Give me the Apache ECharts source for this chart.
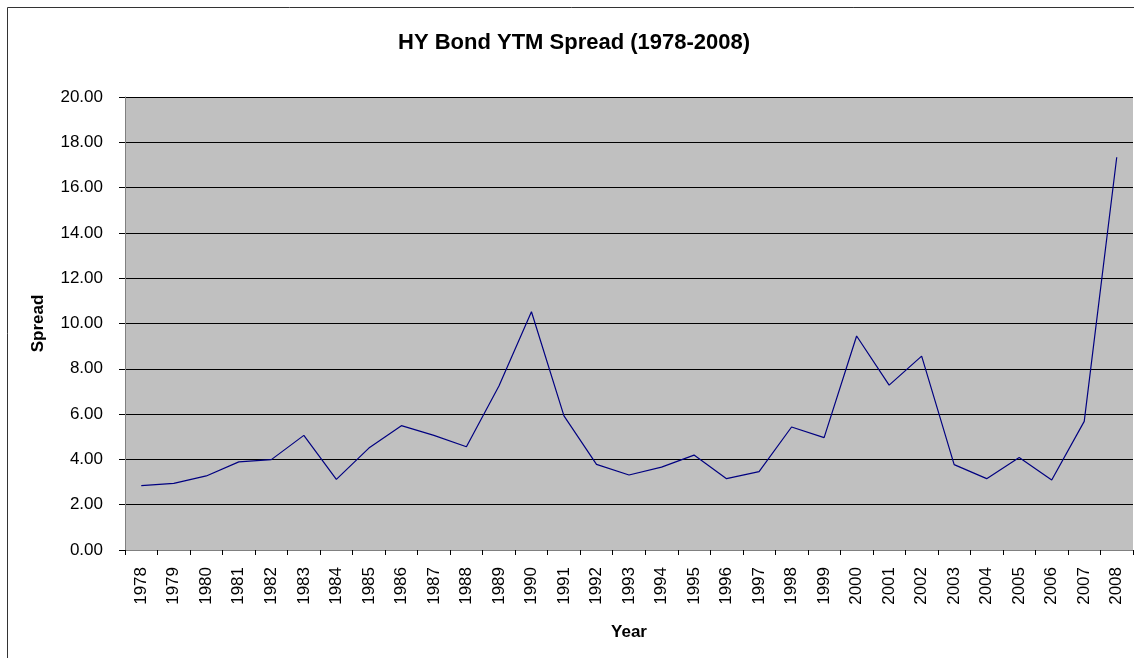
<!DOCTYPE html>
<html>
<head>
<meta charset="utf-8">
<script src="https://cdn.jsdelivr.net/npm/echarts@6/dist/echarts.min.js"></script>
<style>
    html, body { margin: 0; padding: 0; background: #ffffff; }
    #main { width: 1134px; height: 658px; }
</style>
</head>
<body>
<div id="main"></div>
<script>
// years on the category axis
var years = ['1978', '1979', '1980', '1981', '1982', '1983', '1984', '1985', '1986', '1987',
    '1988', '1989', '1990', '1991', '1992', '1993', '1994', '1995', '1996', '1997',
    '1998', '1999', '2000', '2001', '2002', '2003', '2004', '2005', '2006', '2007', '2008'];

// HY bond YTM spread
var spread = [2.84, 2.94, 3.27, 3.89, 3.99, 5.06, 3.12, 4.50, 5.49, 5.06,
    4.56, 7.24, 10.52, 5.92, 3.78, 3.31, 3.66, 4.19, 3.15, 3.46,
    5.43, 4.96, 9.45, 7.28, 8.56, 3.77, 3.15, 4.08, 3.09, 5.68, 17.34];

var chart = echarts.init(document.getElementById('main'));

chart.setOption({
    animation: false,
    backgroundColor: '#ffffff',
    textStyle: {
        fontFamily: 'Liberation Sans, Arial, sans-serif'
    },
    title: {
        text: 'HY Bond YTM Spread (1978-2008)',
        left: 393,
        top: 27,
        textStyle: {
            fontSize: 22,
            fontWeight: 'bold',
            color: '#000000'
        }
    },
    graphic: [
        {
            // outer chart border
            type: 'rect',
            shape: { x: 7.5, y: 7.5, width: 1150, height: 670 },
            style: { fill: null, stroke: '#333333', lineWidth: 1 },
            silent: true
        }
    ],
    grid: {
        left: 125,
        top: 97,
        right: 1,
        bottom: 108,
        show: true,
        backgroundColor: '#c0c0c0',
        borderWidth: 0
    },
    xAxis: {
        type: 'category',
        data: years,
        boundaryGap: true,
        name: 'Year',
        nameLocation: 'middle',
        nameGap: 74,
        nameTextStyle: {
            fontSize: 17,
            fontWeight: 'bold',
            color: '#000000'
        },
        axisLine: { lineStyle: { color: '#808080', width: 1 } },
        axisTick: { show: true, length: 5, inside: false, lineStyle: { color: '#000000' } },
        axisLabel: {
            rotate: 90,
            interval: 0,
            margin: 17,
            fontSize: 17,
            color: '#000000'
        },
        splitLine: { show: false }
    },
    yAxis: {
        type: 'value',
        min: 0,
        max: 20,
        interval: 2,
        name: 'Spread',
        nameLocation: 'middle',
        nameGap: 78,
        nameTextStyle: {
            fontSize: 17,
            fontWeight: 'bold',
            color: '#000000'
        },
        axisLine: { show: true, lineStyle: { color: '#808080', width: 1 } },
        axisTick: { show: true, length: 6, inside: false, lineStyle: { color: '#000000' } },
        axisLabel: {
            margin: 22,
            fontSize: 17,
            color: '#000000',
            formatter: function (v) { return v.toFixed(2); }
        },
        splitLine: { show: true, lineStyle: { color: '#000000', width: 1 } }
    },
    series: [
        {
            name: 'Spread',
            type: 'line',
            data: spread,
            symbol: 'none',
            lineStyle: { color: '#000080', width: 1.2 },
            itemStyle: { color: '#000080' }
        }
    ]
});
</script>
</body>
</html>
